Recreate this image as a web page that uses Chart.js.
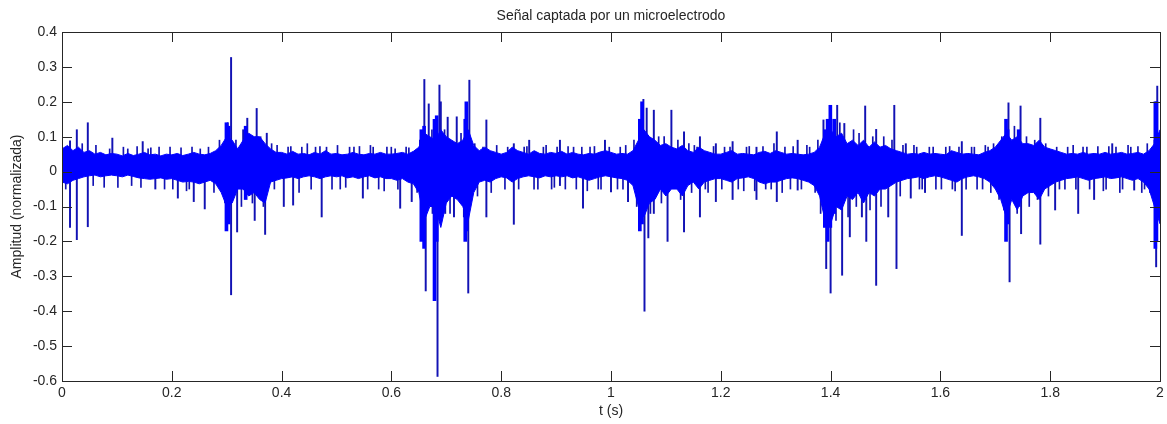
<!DOCTYPE html>
<html>
<head>
<meta charset="utf-8">
<script src="https://cdn.jsdelivr.net/npm/chart.js@4.4.1/dist/chart.umd.min.js"></script>
<style>
  html, body { margin: 0; padding: 0; background: #ffffff; }
  #wrap { width: 1167px; height: 424px; }
</style>
</head>
<body>
<div id="wrap"><canvas id="signalChart"></canvas></div>
<script>
// sample step of the envelope arrays (s)
const dt = 0.01;

// upper / lower edge of the noise band, one value every 10 ms (0 .. 2 s)
const bandHigh = [
    .065, .075, .06, .07, .055, .06, .05, .055, .048, .052,
    .05, .045, .052, .046, .05, .055, .048, .05, .045, .05,
    .048, .052, .046, .05, .055, .05, .048, .052, .06, .075,
    .1, .09, .065, .09, .11, .1, .1, .08, .065, .055,
    .055, .05, .058, .05, .052, .048, .055, .05, .06, .05,
    .052, .048, .05, .055, .05, .048, .052, .05, .055, .05,
    .05, .052, .055, .05, .058, .07, .11, .1, .09, .12,
    .1, .09, .08, .09, .12, .075, .06, .07, .06, .055,
    .05, .055, .07, .06, .055, .05, .06, .052, .05, .055,
    .052, .058, .05, .055, .05, .048, .052, .05, .056, .06,
    .055, .05, .052, .05, .06, .09, .12, .1, .09, .075,
    .08, .07, .065, .075, .06, .055, .07, .06, .055, .05,
    .05, .055, .06, .05, .052, .05, .048, .055, .058, .052,
    .06, .055, .05, .052, .05, .048, .05, .055, .07, .11,
    .12, .1, .11, .08, .09, .075, .09, .07, .085, .07,
    .075, .065, .06, .055, .05, .052, .05, .055, .05, .052,
    .05, .048, .06, .055, .05, .052, .05, .048, .055, .06,
    .07, .09, .11, .09, .1, .08, .08, .075, .09, .07,
    .065, .06, .055, .05, .052, .05, .055, .05, .052, .05,
    .055, .05, .052, .055, .05, .052, .055, .05, .06, .08,
    .12
];
const bandLow = [
    -.03, -.035, -.025, -.02, -.015, -.012, -.01, -.015, -.012, -.01,
    -.012, -.015, -.01, -.014, -.018, -.02, -.022, -.02, -.018, -.022,
    -.02, -.025, -.03, -.028, -.03, -.035, -.03, -.025, -.035, -.06,
    -.1, -.09, -.05, -.05, -.07, -.06, -.08, -.09, -.03, -.025,
    -.02, -.018, -.015, -.02, -.015, -.012, -.015, -.02, -.015, -.012,
    -.015, -.012, -.018, -.015, -.02, -.015, -.012, -.018, -.015, -.02,
    -.02, -.025, -.02, -.03, -.035, -.06, -.14, -.1, -.1, -.16,
    -.09, -.07, -.08, -.1, -.14, -.06, -.03, -.025, -.03, -.02,
    -.015, -.018, -.03, -.02, -.015, -.012, -.015, -.018, -.012, -.015,
    -.012, -.015, -.012, -.018, -.015, -.02, -.025, -.02, -.015, -.012,
    -.015, -.018, -.02, -.025, -.04, -.1, -.13, -.09, -.08, -.05,
    -.07, -.05, -.05, -.07, -.04, -.03, -.05, -.03, -.025, -.02,
    -.02, -.025, -.03, -.02, -.018, -.015, -.02, -.03, -.035, -.03,
    -.03, -.025, -.02, -.018, -.02, -.025, -.03, -.04, -.07, -.14,
    -.15, -.1, -.11, -.07, -.08, -.06, -.09, -.06, -.07, -.05,
    -.05, -.04, -.03, -.025, -.02, -.018, -.015, -.02, -.015, -.012,
    -.015, -.02, -.025, -.03, -.02, -.015, -.012, -.015, -.02, -.03,
    -.05, -.08, -.13, -.08, -.11, -.07, -.06, -.06, -.08, -.05,
    -.04, -.03, -.025, -.02, -.018, -.015, -.02, -.025, -.02, -.018,
    -.015, -.02, -.018, -.015, -.02, -.025, -.02, -.03, -.05, -.1,
    -.15
];

// dense, thick parts of the bursts: time, lowest and highest value
const burstT = [
    0.305, 0.309, 0.34, 0.66, 0.665, 0.684, 0.688, 0.74, 0.742, 1.058,
    1.062, 1.395, 1.4, 1.405, 1.412, 1.725, 1.728, 1.748, 1.997, 1.999
];
const burstMin = [
    -0.17, -0.15, -0.08, -0.2, -0.22, -0.37, -0.2, -0.2, -0.17, -0.17,
    -0.15, -0.16, -0.2, -0.16, -0.12, -0.2, -0.15, -0.1, -0.22, -0.2
];
const burstMax = [
    0.14, 0.13, 0.13, 0.12, 0.13, 0.15, 0.16, 0.15, 0.2, 0.15,
    0.2, 0.12, 0.15, 0.19, 0.15, 0.15, 0.12, 0.12, 0.2, 0.2
];

// individual spikes: time, lowest and highest value of each one
const spikeT = [
    0.0146, 0.027, 0.047, 0.0917, 0.147, 0.17, 0.211, 0.24, 0.26, 0.302,
    0.308, 0.319, 0.33, 0.3375, 0.351, 0.3546, 0.370, 0.373, 0.404, 0.421,
    0.473, 0.548, 0.616, 0.637, 0.66, 0.6625, 0.668, 0.675, 0.684, 0.6875,
    0.69, 0.698, 0.7025, 0.714, 0.719, 0.74, 0.742, 0.773, 0.823, 0.851,
    0.907, 0.949, 0.989, 1.0, 1.031, 1.059, 1.061, 1.065, 1.068, 1.078,
    1.103, 1.11, 1.133, 1.162, 1.191, 1.2215, 1.265, 1.302, 1.34, 1.387,
    1.392, 1.4, 1.412, 1.421, 1.425, 1.435, 1.457, 1.463, 1.465, 1.483,
    1.505, 1.516, 1.52, 1.537, 1.546, 1.572, 1.639, 1.716, 1.724, 1.726,
    1.746, 1.747, 1.782, 1.809, 1.851, 1.88, 1.913, 1.953, 1.982, 1.993,
    1.995
];
const spikeMin = [
    -0.16, -0.195, -0.158, 0, 0, -0.05, -0.076, -0.086, -0.107, -0.05,
    -0.353, -0.173, 0, -0.05, -0.14, 0, -0.18, 0, -0.1, -0.096,
    -0.13, -0.076, -0.105, -0.086, 0, -0.342, 0, -0.12, -0.587, 0,
    0, -0.12, 0, -0.13, 0, -0.348, 0, -0.13, -0.151, 0,
    -0.04, -0.105, 0, -0.058, -0.086, 0, -0.4, 0, -0.19, -0.12,
    -0.2, 0, -0.173, -0.13, -0.086, -0.08, -0.08, -0.086, -0.053, 0,
    -0.278, -0.348, 0, -0.297, 0, -0.187, -0.13, 0, -0.2, -0.326,
    -0.13, 0, -0.278, 0, -0.076, -0.06, -0.183, -0.11, 0, -0.316,
    0, -0.178, -0.208, -0.11, -0.12, -0.08, 0, -0.053, -0.06, -0.273,
    0
];
const spikeMax = [
    0.088, 0.12, 0.14, 0.096, 0.086, 0, 0, 0, 0, 0.14,
    0.327, 0.05, 0.12, 0.153, 0, 0.181, 0.03, 0.11, 0, 0,
    0, 0, 0, 0, 0.264, 0, 0.194, 0, 0, 0.248,
    0.2, 0, 0.156, 0, 0.157, 0, 0.262, 0.148, 0.08, 0.09,
    0.09, 0, 0.09, 0, 0, 0.207, 0, 0.182, 0, 0.176,
    0, 0.176, 0.114, 0.1, 0.08, 0.086, 0.07, 0.114, 0.09, 0.148,
    0, 0.181, 0.19, 0, 0.138, 0, 0, 0.188, 0, 0.121,
    0, 0.19, 0, 0.08, 0, 0, 0.086, 0, 0.197, 0,
    0.188, 0, 0.153, 0, 0, 0, 0.08, 0, 0, 0,
    0.245
];

// small excursions just outside the band (time, tip value)
const fringeT = [
    0.005, 0.035, 0.055, 0.06, 0.075, 0.085, 0.1, 0.11, 0.118, 0.125,
    0.135, 0.142, 0.155, 0.16, 0.175, 0.185, 0.195, 0.2, 0.215, 0.225,
    0.23, 0.235, 0.25, 0.265, 0.275, 0.285, 0.295, 0.315, 0.325, 0.345,
    0.36, 0.365, 0.38, 0.385, 0.39, 0.41, 0.415, 0.43, 0.435, 0.445,
    0.452, 0.46, 0.468, 0.48, 0.49, 0.5, 0.505, 0.515, 0.522, 0.53,
    0.54, 0.555, 0.56, 0.565, 0.575, 0.585, 0.59, 0.598, 0.605, 0.61,
    0.625, 0.63, 0.645, 0.65, 0.655, 0.672, 0.695, 0.705, 0.725, 0.73,
    0.75, 0.755, 0.765, 0.78, 0.79, 0.805, 0.81, 0.83, 0.84, 0.845,
    0.858, 0.865, 0.875, 0.88, 0.89, 0.895, 0.9, 0.915, 0.92, 0.93,
    0.935, 0.945, 0.955, 0.96, 0.968, 0.975, 0.98, 0.995, 1.01, 1.015,
    1.02, 1.025, 1.04, 1.045, 1.07, 1.085, 1.09, 1.095, 1.12, 1.125,
    1.14, 1.145, 1.15, 1.155, 1.17, 1.175, 1.185, 1.2, 1.205, 1.215,
    1.23, 1.24, 1.245, 1.25, 1.26, 1.275, 1.28, 1.29, 1.295, 1.31,
    1.315, 1.325, 1.33, 1.345, 1.355, 1.36, 1.37, 1.375, 1.38, 1.408,
    1.415, 1.43, 1.44, 1.445, 1.45, 1.47, 1.475, 1.49, 1.495, 1.51,
    1.525, 1.53, 1.55, 1.555, 1.56, 1.565, 1.578, 1.585, 1.59, 1.6,
    1.608, 1.615, 1.62, 1.625, 1.632, 1.645, 1.655, 1.66, 1.665, 1.675,
    1.68, 1.685, 1.69, 1.695, 1.705, 1.71, 1.72, 1.733, 1.738, 1.755,
    1.76, 1.77, 1.775, 1.79, 1.795, 1.81, 1.815, 1.825, 1.83, 1.84,
    1.845, 1.858, 1.865, 1.87, 1.885, 1.895, 1.9, 1.905, 1.918, 1.925,
    1.93, 1.94, 1.945, 1.958, 1.965, 1.97, 1.975, 1.988, 1.99
];
const fringeTip = [
    -.05, .08, -.04, .075, -.045, .065, -.045, .07, .065, -.04,
    .072, -.045, .065, .068, .07, -.05, .07, -.05, .068, -.055,
    -.05, .07, .065, .07, -.06, .09, -.09, .09, -.1, -.09,
    .1, -.1, .08, -.05, .075, .07, .072, -.06, .07, .08,
    -.05, .07, .072, .07, -.05, .075, -.05, -.045, .07, .07,
    .072, -.05, .075, .07, -.05, -.055, .07, .07, .065, -.05,
    .07, .068, -.06, .09, -.12, .12, .12, -.12, .11, -.13,
    .08, -.07, .07, -.06, .075, -.05, .07, -.05, .07, .072,
    -.05, -.05, .07, .075, -.05, -.045, .07, -.05, .072, .07,
    -.05, .07, -.055, .07, .072, -.05, -.05, .07, -.05, .07,
    -.05, .075, .09, -.1, -.12, .1, -.09, .1, .09, -.08,
    .08, -.06, .075, .07, -.05, -.06, .072, -.05, .07, .07,
    -.05, -.055, .07, .072, -.055, .072, -.05, -.05, .08, -.06,
    .07, -.05, .072, -.05, .075, .07, -.06, .09, -.12, -.14,
    .14, -.13, .12, -.1, .11, -.11, .1, -.1, .1, .09,
    -.07, .075, .075, .07, -.05, -.05, .07, .07, -.05, -.05,
    .07, .072, -.05, -.055, .07, -.05, .07, .07, -.05, -.05,
    .075, .07, -.06, .08, -.08, .1, -.13, .13, -.12, .1,
    -.1, .09, -.08, .08, -.07, .07, -.05, -.05, .07, .075,
    -.05, .07, .07, -.05, .072, -.055, -.05, .072, .07, -.06,
    -.05, .075, .07, .072, -.06, -.05, .08, .09, -.1
];

const blue = '#0000ff';
const spikeBlue = '#1212b4';

// MATLAB style frame: full box and inward ticks on every side
const boxTicks = {
    id: 'boxTicks',
    afterDraw(chart) {
        const {ctx, chartArea: a, scales: {x, y}} = chart;
        const len = 10;
        ctx.save();
        ctx.strokeStyle = '#262626';
        ctx.lineWidth = 1;
        ctx.beginPath();
        x.ticks.forEach(t => {
            const px = Math.round(x.getPixelForValue(t.value)) + 0.5;
            ctx.moveTo(px, a.bottom); ctx.lineTo(px, a.bottom - len);
            ctx.moveTo(px, a.top); ctx.lineTo(px, a.top + len);
        });
        y.ticks.forEach(t => {
            const py = Math.round(y.getPixelForValue(t.value)) + 0.5;
            ctx.moveTo(a.left, py); ctx.lineTo(a.left + len, py);
            ctx.moveTo(a.right, py); ctx.lineTo(a.right - len, py);
        });
        ctx.stroke();
        ctx.strokeRect(Math.round(a.left) + 0.5, Math.round(a.top) + 0.5,
            Math.round(a.right - a.left), Math.round(a.bottom - a.top));
        ctx.restore();
    }
};

const highPts = bandHigh.map((v, i) => ({x: i * dt, y: v}));
const lowPts = bandLow.map((v, i) => ({x: i * dt, y: v}));
const burstPts = burstT.map((t, i) => ({x: t, y: [burstMin[i], burstMax[i]]}));
const spikePts = spikeT.map((t, i) => ({x: t, y: [spikeMin[i], spikeMax[i]]}));
const fringePts = fringeT.map((t, i) => ({x: t, y: fringeTip[i] > 0 ? [0.02, fringeTip[i]] : [fringeTip[i], 0.02]}));

const font = "'Liberation Sans', Arial, sans-serif";
const trim = v => String(Math.round(v * 10) / 10);

new Chart(document.getElementById('signalChart'), {
    type: 'line',
    data: {
        datasets: [
            {
                data: highPts,
                borderColor: blue,
                backgroundColor: blue,
                borderWidth: 1,
                pointRadius: 0,
                tension: 0,
                fill: '+1'
            },
            {
                data: lowPts,
                borderColor: blue,
                borderWidth: 1,
                pointRadius: 0,
                tension: 0,
                fill: false
            },
            {
                type: 'bar',
                data: burstPts,
                backgroundColor: blue,
                barThickness: 3
            },
            {
                type: 'bar',
                data: spikePts,
                backgroundColor: spikeBlue,
                barThickness: 1.3
            },
            {
                type: 'bar',
                data: fringePts,
                backgroundColor: spikeBlue,
                barThickness: 1
            }
        ]
    },
    options: {
        responsive: true,
        maintainAspectRatio: false,
        animation: false,
        layout: { padding: { left: 0, right: 7, top: 0, bottom: 0 } },
        plugins: {
            legend: { display: false },
            tooltip: { enabled: false },
            title: {
                display: true,
                fullSize: false,
                text: 'Señal captada por un microelectrodo',
                color: '#262626',
                font: { family: font, size: 14, weight: 'normal' },
                padding: { top: 7.6, bottom: 7.6 }
            }
        },
        scales: {
            x: {
                type: 'linear',
                min: 0,
                max: 2,
                offset: false,
                grid: { display: false, drawTicks: false },
                border: { display: false },
                ticks: {
                    stepSize: 0.2,
                    padding: 3.6,
                    color: '#262626',
                    maxRotation: 0,
                    font: { family: font, size: 14 },
                    callback: trim
                },
                title: {
                    display: true,
                    text: 't (s)',
                    color: '#262626',
                    font: { family: font, size: 14 },
                    padding: { top: 0, bottom: 4.6 }
                },
                afterFit: s => {
                    s.height = 43;
                    s.paddingLeft = 0;
                    s.paddingRight = 0;
                }
            },
            y: {
                min: -0.6,
                max: 0.4,
                grid: { display: false, drawTicks: false },
                border: { display: false },
                ticks: {
                    stepSize: 0.1,
                    padding: 5,
                    color: '#262626',
                    font: { family: font, size: 14 },
                    callback: trim
                },
                title: {
                    display: true,
                    text: 'Amplitud (normalizada)',
                    color: '#262626',
                    font: { family: font, size: 14 },
                    padding: { top: 9.1, bottom: 0 }
                },
                afterFit: s => {
                    s.width = 62;
                    s.paddingTop = 0;
                    s.paddingBottom = 0;
                }
            }
        }
    },
    plugins: [boxTicks]
});
</script>
</body>
</html>
